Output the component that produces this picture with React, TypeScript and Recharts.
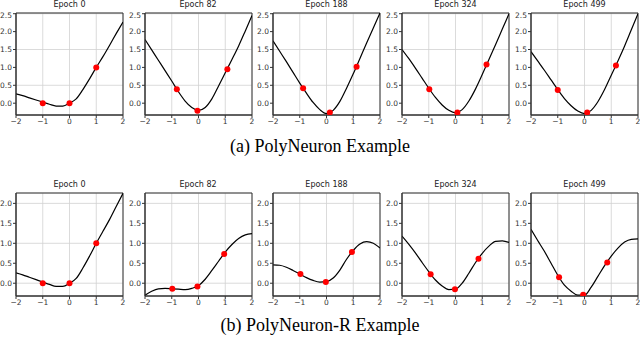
import React from "react";
import { ComposedChart, Line, Scatter, XAxis, YAxis, CartesianGrid, ReferenceArea } from "recharts";

// sample positions shared by every curve
const X_GRID = [-2, -1.75, -1.5, -1.25, -1, -0.75, -0.5, -0.25, 0, 0.25, 0.5, 0.75, 1, 1.25, 1.5, 1.75, 2];
const EPOCHS = [0, 82, 188, 324, 499];
const X_TICKS = [-2, -1, 0, 1, 2];

// (a) PolyNeuron
const polyCurves = [
  [0.26, 0.21, 0.15, 0.09, 0.03, -0.03, -0.08, -0.08, 0.0, 0.12, 0.38, 0.68, 1.0, 1.3, 1.62, 1.95, 2.27],
  [1.78, 1.49, 1.2, 0.91, 0.62, 0.32, 0.06, -0.12, -0.2, -0.12, 0.12, 0.48, 0.85, 1.22, 1.6, 2.02, 2.45],
  [1.74, 1.45, 1.16, 0.86, 0.56, 0.28, 0.02, -0.18, -0.29, -0.2, 0.05, 0.42, 0.82, 1.25, 1.68, 2.1, 2.52],
  [1.5, 1.25, 0.98, 0.7, 0.42, 0.16, -0.05, -0.2, -0.27, -0.18, 0.06, 0.4, 0.8, 1.22, 1.64, 2.07, 2.5],
  [1.44, 1.18, 0.92, 0.65, 0.38, 0.13, -0.07, -0.22, -0.29, -0.2, 0.04, 0.38, 0.78, 1.18, 1.6, 2.05, 2.5],
];
const polyPtsX = [
  [-1, 0, 1],
  [-0.81, -0.04, 1.08],
  [-0.875, 0.125, 1.125],
  [-0.98, 0.07, 1.16],
  [-1.0, 0.1, 1.175],
];
const polyPtsY = [
  [0, 0, 1],
  [0.39, -0.21, 0.95],
  [0.42, -0.26, 1.02],
  [0.39, -0.26, 1.08],
  [0.37, -0.26, 1.05],
];

// (b) PolyNeuron-R
const polyRCurves = [
  [0.26, 0.21, 0.15, 0.09, 0.03, -0.03, -0.08, -0.08, 0.0, 0.12, 0.38, 0.68, 1.0, 1.3, 1.6, 1.93, 2.25],
  [-0.3, -0.2, -0.14, -0.13, -0.14, -0.15, -0.16, -0.13, -0.06, 0.1, 0.32, 0.55, 0.78, 0.97, 1.12, 1.21, 1.24],
  [0.46, 0.45, 0.4, 0.32, 0.23, 0.14, 0.07, 0.03, 0.04, 0.13, 0.33, 0.6, 0.82, 0.98, 1.04, 1.0, 0.88],
  [1.18, 0.98, 0.76, 0.52, 0.29, 0.08, -0.07, -0.16, -0.15, 0.0, 0.25, 0.52, 0.75, 0.93, 1.05, 1.06, 1.02],
  [1.35, 1.07, 0.8, 0.5, 0.2, -0.05, -0.2, -0.3, -0.3, -0.1, 0.17, 0.44, 0.68, 0.88, 1.03, 1.1, 1.11],
];
const polyRPtsX = [
  [-1, 0, 1],
  [-0.98, -0.04, 0.96],
  [-0.975, -0.025, 0.95],
  [-0.93, -0.02, 0.86],
  [-0.95, -0.05, 0.85],
];
const polyRPtsY = [
  [0, 0, 1],
  [-0.14, -0.08, 0.73],
  [0.23, 0.03, 0.78],
  [0.225, -0.15, 0.61],
  [0.15, -0.29, 0.52],
];

const Y_TICKS_A = [0, 0.5, 1, 1.5, 2, 2.5];
const Y_TICKS_B = [0, 0.5, 1, 1.5, 2];

const PLOT_LEFTS = [16, 144.5, 273, 402, 531];
const PLOT_W = 107;
const tickFont = { fontSize: 7.5, fill: "#333", fontFamily: "DejaVu Sans" };
const fmtX = (v: number) => String(v).replace("-", "\u2212");
const fmtY = (v: number) => v.toFixed(1).replace("-", "\u2212");

interface PanelProps {
  left: number;
  top: number;
  plotH: number;
  yDomain: [number, number];
  yTicks: number[];
  curve: number[];
  ptsX: number[];
  ptsY: number[];
  title: string;
}

const Panel = (props: PanelProps) => {
  const { left, top, plotH, yDomain, yTicks, curve, ptsX, ptsY, title } = props;
  const lineData = X_GRID.map((x, i) => ({ x, y: curve[i] }));
  const ptData = ptsX.map((x, i) => ({ x, y: ptsY[i] }));
  return (
    <>
      <div
        style={{
          position: "absolute",
          left: left,
          top: top - 13,
          width: PLOT_W,
          textAlign: "center",
          fontFamily: "DejaVu Sans",
          fontSize: 8,
          lineHeight: "10px",
          color: "#222",
        }}
      >
        {title}
      </div>
      <div style={{ position: "absolute", left: left - 16, top: top - 2 }}>
        <ComposedChart width={16 + PLOT_W + 3} height={2 + plotH + 12} margin={{ top: 2, right: 3, bottom: 0, left: 0 }}>
          <CartesianGrid stroke="#d2d2d2" strokeWidth={0.8} />
          <XAxis
            type="number"
            dataKey="x"
            domain={[-2, 2]}
            ticks={X_TICKS}
            allowDataOverflow
            height={12}
            tickSize={3}
            tickMargin={1}
            tick={tickFont}
            tickFormatter={fmtX}
            stroke="#333"
          />
          <YAxis
            type="number"
            dataKey="y"
            domain={yDomain}
            ticks={yTicks}
            allowDataOverflow
            width={16}
            tickSize={3}
            tickMargin={1}
            tick={tickFont}
            tickFormatter={fmtY}
            stroke="#333"
          />
          <ReferenceArea x1={-2} x2={2} y1={yDomain[0]} y2={yDomain[1]} fill="none" stroke="#333" strokeWidth={1} />
          <Line data={lineData} dataKey="y" type="monotone" stroke="#000" strokeWidth={1.2} dot={false} isAnimationActive={false} />
          <Scatter
            data={ptData}
            dataKey="y"
            fill="#ff0000"
            isAnimationActive={false}
            shape={(p: any) => <circle cx={p.cx} cy={p.cy} r={3} fill="#ff0000" />}
          />
        </ComposedChart>
      </div>
    </>
  );
};

export default function App() {
  return (
    <div style={{ position: "absolute", left: 0, top: 0, width: 640, height: 357, background: "#fff" }}>
      {EPOCHS.map((ep, i) => (
        <Panel
          key={`a-${i}`}
          left={PLOT_LEFTS[i]}
          top={13}
          plotH={102}
          yDomain={[-0.33, 2.52]}
          yTicks={Y_TICKS_A}
          curve={polyCurves[i]}
          ptsX={polyPtsX[i]}
          ptsY={polyPtsY[i]}
          title={`Epoch ${ep}`}
        />
      ))}
      {EPOCHS.map((ep, i) => (
        <Panel
          key={`b-${i}`}
          left={PLOT_LEFTS[i]}
          top={193}
          plotH={103}
          yDomain={[-0.32, 2.26]}
          yTicks={Y_TICKS_B}
          curve={polyRCurves[i]}
          ptsX={polyRPtsX[i]}
          ptsY={polyRPtsY[i]}
          title={`Epoch ${ep}`}
        />
      ))}
      <div style={{ position: "absolute", left: 0, top: 135, width: 640, textAlign: "center", fontFamily: "Liberation Serif", fontSize: 18, lineHeight: "22px" }}>
        (a) PolyNeuron Example
      </div>
      <div style={{ position: "absolute", left: 0, top: 314, width: 640, textAlign: "center", fontFamily: "Liberation Serif", fontSize: 18, lineHeight: "22px" }}>
        (b) PolyNeuron-R Example
      </div>
    </div>
  );
}
